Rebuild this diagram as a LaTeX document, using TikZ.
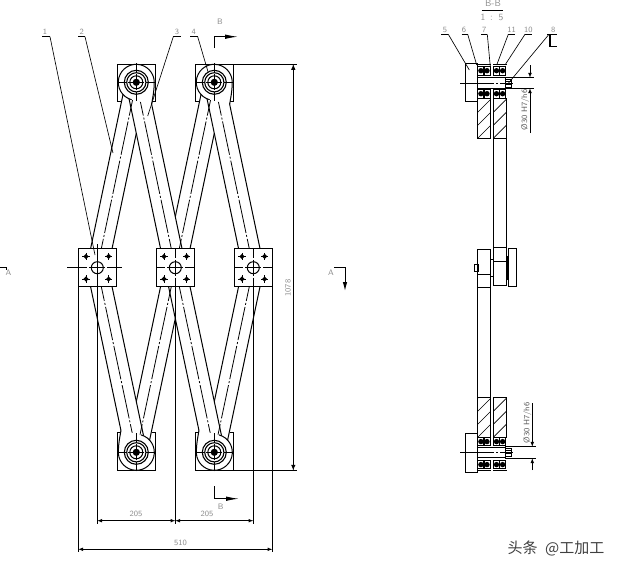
\documentclass[tikz,border=0pt]{standalone}
\usepackage{fontspec}
\usetikzlibrary{calc,arrows,arrows.meta}
\newfontfamily\cjk{Noto Sans CJK SC}
\newcommand\linkbar[2]{\draw[part,fill=white] ($(#1)!10.5pt!90:(#2)$) -- ($(#2)!10.5pt!-90:(#1)$) -- ($(#2)!10.5pt!90:(#1)$) -- ($(#1)!10.5pt!-90:(#2)$) -- cycle;}
\newcommand\hatchbox[4]{\begin{scope}\clip (#1,#2) rectangle (#3,#4);
  \foreach \d in {-39,-26,...,13} \draw[leader] (#1+\d,#4) -- ++(40,-40);
  \end{scope}\draw[part] (#1,#2) rectangle (#3,#4);}
\newcommand\shelf[3]{\draw[line width=1.2pt] (#1,#3) -- (#2,#3);}
\tikzset{
  part/.style={line width=1pt},
  leader/.style={line width=0.65pt},
  centerline/.style={line width=0.8pt,dash pattern=on 34pt off 2pt on 2pt off 2pt},
  crossline/.style={line width=0.7pt,dash pattern=on 9pt off 2pt on 16pt off 2pt on 9pt},
  dimtext/.style={black!45,font=\sffamily\fontsize{8}{8}\selectfont,inner sep=0pt},
  pivot/.pic={
    \draw[part] (-15.6,19.4) -- (-19,19.4) -- (-19,-18.3) -- (19,-18.3) -- (19,19.4) -- (15.6,19.4);
    \fill[white] (-4.7,17.4) arc[start angle=-255,end angle=5,radius=18] .. controls (17.7,10) and (16.5,15) .. (15.3,22) -- cycle;
    \draw[part] (-4.7,17.4) arc[start angle=-255,end angle=5,radius=18] .. controls (17.7,10) and (16.5,15) .. (15.3,22);
    \draw[line width=1.1pt] (0,0) circle[radius=12];
    \draw[line width=1.1pt] (0,0) circle[radius=9.6];
    \draw[part] (0,0) circle[radius=6.5];
    \fill (0,0) circle[radius=3.6];
    \draw[crossline] (-19,0) -- (19,0);
    \draw[crossline] (0,-19) -- (0,19);
  },
  slide/.pic={
    \draw[line width=1.1pt,fill=white] (-19,-19) rectangle (19,19);
    \foreach \a in {-11.3,11.3} \foreach \b in {-11.3,11.3} {
      \fill (\a-2.6,\b) -- (\a,\b-2.6) -- (\a+2.6,\b) -- (\a,\b+2.6) -- cycle;
      \draw[leader] (\a-3.6,\b) -- (\a+3.6,\b);
      \draw[leader] (\a,\b-3.6) -- (\a,\b+3.6);
    }
    \draw[part] (0,0) circle[radius=6];
    \draw[crossline] (-19,0) -- (19,0);
    \draw[crossline] (0,-19) -- (0,19);
  },
  hub/.pic={
    \draw[part] (465,63.3) rectangle (477,101.7);
    \draw[part] (477,77.7) rectangle (505,88.3);
    \foreach \x in {477.7,493.3} \foreach \y in {66.5,89.5} {
      \draw[part] (\x,\y) rectangle (\x+12.5,\y+8.5);
      \fill (\x+3.2,\y+4.2) circle[radius=2.7];
      \fill (\x+9.3,\y+4.2) circle[radius=2.7];
      \draw[line width=1.3pt] (\x+6.2,\y) -- (\x+6.2,\y+8.5);
    }
    \draw[part] (505,79) rectangle (511.5,87.3);
    \draw[leader] (505,81.5) -- (511.5,81.5);
    \draw[leader] (505,84.8) -- (511.5,84.8);
    \draw[centerline] (460,83) -- (513,83);
  }
}
\begin{document}
\begin{tikzpicture}[x=1pt,y=-1pt]
\useasboundingbox (0,0) rectangle (619,571);
\coordinate (t1) at (136.3,82.3);
\coordinate (t2) at (214.3,82.3);
\coordinate (m1) at (97.3,267.7);
\coordinate (m2) at (175.3,267.7);
\coordinate (m3) at (253.3,267.7);
\coordinate (b1) at (136.3,452.3);
\coordinate (b2) at (214.3,452.3);

\linkbar{t1}{m1}
\linkbar{t2}{m2}
\linkbar{t1}{m2}
\linkbar{t2}{m3}
\linkbar{m3}{b2}
\linkbar{m2}{b1}
\linkbar{m2}{b2}
\linkbar{m1}{b1}
\foreach \p/\q in {t1/m1,t2/m2,t1/m2,t2/m3,m3/b2,m2/b1,m2/b2,m1/b1}
  \draw[centerline] (\p) -- (\q);

\pic at (t1) {pivot};
\pic at (t2) {pivot};
\pic[rotate=180] at (b1) {pivot};
\pic[rotate=180] at (b2) {pivot};
\pic at (m1) {slide};
\pic at (m2) {slide};
\pic at (m3) {slide};
\draw[part] (67,267.7) -- (78.3,267.7);
\draw[part] (116.3,267.7) -- (122.3,267.7);

\draw[leader] (78.3,286.7) -- (78.3,552);
\draw[leader] (272.3,286.7) -- (272.3,552);
\draw[leader] (97.3,244) -- (97.3,524);
\draw[line width=1.1pt] (175.3,286.7) -- (175.3,524);
\draw[leader] (253.3,286.7) -- (253.3,524);
\draw[leader,latex-latex] (97.3,520.7) -- (175.3,520.7);
\draw[leader,latex-latex] (175.3,520.7) -- (253.3,520.7);
\draw[leader,latex-latex] (78.3,549.3) -- (272.3,549.3);
\node[dimtext] (w1) at (136,514) {205};
\node[dimtext] (w2) at (207,514) {205};
\node[dimtext] (w3) at (180.5,543) {510};
\draw[leader] (233.3,64) -- (297,64);
\draw[leader] (233.3,470.6) -- (297,470.6);
\draw[part,latex-latex] (293.3,64) -- (293.3,470.6);
\node[dimtext,rotate=90] (h1) at (288,288) {1078};

\shelf{42}{50}{36.7}
\shelf{78}{85}{36.7}
\shelf{173.3}{181}{36.7}
\shelf{190}{197.7}{36.7}
\draw[leader] (50,36.7) -- (95,255);
\draw[leader] (85,36.7) -- (113,153);
\draw[leader] (173.3,36.7) -- (147.7,116);
\draw[leader] (197.7,36.7) -- (208,71.7);
\node[dimtext] (n1) at (45,32) {1};
\node[dimtext] (n2) at (81.7,32) {2};
\node[dimtext] (n3) at (177,32) {3};
\node[dimtext] (n4) at (193.7,32) {4};

\draw[part,-{Latex[length=13pt,width=4.5pt]}] (214,48) -- (214,36.7) -- (238,36.7);
\draw[part,-{Latex[length=13pt,width=4.5pt]}] (214,486) -- (214,498.7) -- (239,498.7);
\node[dimtext] (s1) at (220,22) {B};
\node[dimtext] (s2) at (220.7,506.7) {B};
\draw[part] (0,267.7) -- (6,267.7) -- (6,270);
\node[dimtext] (a1) at (8.5,273) {A};
\node[dimtext] (a2) at (331,273) {A};
\draw[part,-{Latex[length=9pt,width=4.5pt]}] (334,267.5) -- (345,267.5) -- (345,291);

\pic at (0,0) {hub};
\pic[yscale=-1] at (0,535.3) {hub};
\hatchbox{477.7}{98}{490.7}{138.3}
\hatchbox{493.3}{98}{506.7}{138.3}
\hatchbox{477.7}{397}{490.7}{437.3}
\hatchbox{493.3}{397}{506.7}{437.3}
\draw[part] (477.7,64.7) -- (490.7,64.7);
\draw[part] (493.3,64.7) -- (506.7,64.7);
\draw[part] (477.7,470.6) -- (490.7,470.6);
\draw[part] (493.3,470.6) -- (506.7,470.6);

\draw[part] (493.3,138.3) rectangle (506.7,285.3);
\draw[part] (493.3,247.7) -- (506.7,247.7);
\draw[part] (493.3,261) -- (506.7,261);
\draw[part] (477.7,249.3) rectangle (490.7,397);
\draw[part] (477.7,274.3) -- (490.7,274.3);
\draw[part] (477.7,287.3) -- (490.7,287.3);
\draw[part] (508.3,248.3) rectangle (516.7,286.7);
\draw[line width=1.3pt] (507,256) -- (507,279.7);
\draw[part] (474.3,264.3) rectangle (478,271);
\draw[part] (490.7,259.3) -- (493.3,259.3);
\draw[part] (490.7,276) -- (493.3,276);

\node[dimtext,font=\sffamily\fontsize{9.5}{9.5}\selectfont] (v1) at (493,3) {B-B};
\draw[leader] (481.7,10) -- (502.7,10);
\node[dimtext,font=\sffamily\fontsize{9.5}{9.5}\selectfont] (v2) at (492,17.3) {1 \,:\, 5};
\shelf{441}{448.3}{34.3}
\shelf{461.7}{467.7}{34.3}
\shelf{481}{487.3}{34.3}
\shelf{508.3}{515}{34.3}
\shelf{525}{531.7}{34.3}
\shelf{547.3}{556.7}{34.3}
\draw[leader] (448.3,34.3) -- (469.3,70);
\draw[leader] (467.7,34.3) -- (476.7,65);
\draw[leader] (487.3,34.3) -- (490.3,66.7);
\draw[leader] (508.3,34.3) -- (496.7,65);
\draw[leader] (525,34.3) -- (505,65);
\draw[leader] (549,34.3) -- (508.3,83.3);
\draw[line width=1.2pt] (550,34.3) -- (550,46.7) -- (556.7,46.7);
\node[dimtext] (n5) at (445,30) {5};
\node[dimtext] (n6) at (464,30) {6};
\node[dimtext] (n7) at (484.3,30) {7};
\node[dimtext] (n11) at (511.7,30) {11};
\node[dimtext] (n10) at (528.3,30) {10};
\node[dimtext] (n8) at (553.3,30) {8};

\draw[leader] (505,77.7) -- (534,77.7);
\draw[leader] (505,88.3) -- (534,88.3);
\draw[leader,-latex] (530,65) -- (530,77.7);
\draw[leader,-latex] (530,133) -- (530,88.3);
\node[black!65,rotate=90,font=\sffamily\fontsize{8}{8}\selectfont,inner sep=0pt] (d1) at (525,110) {\O 30 H7/h6};
\draw[leader] (505,446.7) -- (536,446.7);
\draw[leader] (505,458.3) -- (536,458.3);
\draw[leader,-latex] (532.3,403) -- (532.3,446.7);
\draw[leader,-latex] (532.3,470) -- (532.3,458.3);
\node[black!65,rotate=90,font=\sffamily\fontsize{8}{8}\selectfont,inner sep=0pt] (d2) at (527.3,423) {\O 30 H7/h6};

\node[black!75,font=\cjk\fontsize{15}{15}\selectfont,inner sep=0pt] (mark) at (556,548) {头条\hspace{4pt} @工加工};
\end{tikzpicture}
\end{document}
